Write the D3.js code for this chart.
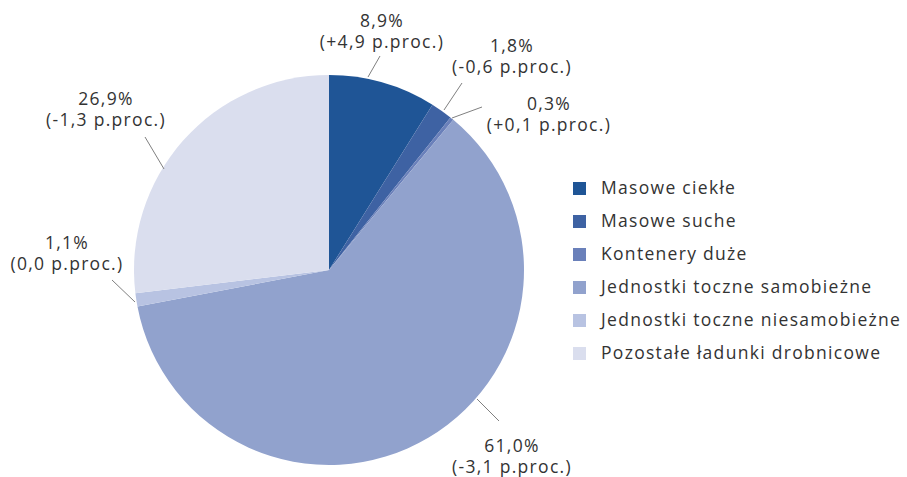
<!DOCTYPE html>
<html>
<head>
<meta charset="utf-8">
<script src="https://cdn.jsdelivr.net/npm/d3@7"></script>
<style>
  body { margin: 0; background: #fff; }
  text { font-family: "Open Sans", "Noto Sans", sans-serif; fill: #333; letter-spacing: 1.3px; }
</style>
</head>
<body>
<svg id="chart" width="907" height="477"></svg>
<script>
const categories = ["Masowe ciekłe", "Masowe suche", "Kontenery duże", "Jednostki toczne samobieżne", "Jednostki toczne niesamobieżne", "Pozostałe ładunki drobnicowe"];
const shares = [8.9, 1.8, 0.3, 61.0, 1.1, 26.9];
const shareLabels = ["8,9%", "1,8%", "0,3%", "61,0%", "1,1%", "26,9%"];
const changeLabels = ["(+4,9 p.proc.)", "(-0,6 p.proc.)", "(+0,1 p.proc.)", "(-3,1 p.proc.)", "(0,0 p.proc.)", "(-1,3 p.proc.)"];
const colors = ["#1f5596", "#3e62a3", "#6a80ba", "#91a2cd", "#b8c3e2", "#dadeee"];

// annotation layout (leader line start/end in px, label center x and first baseline in px)
const labelLayout = [
  {x1: 368, y1: 77, x2: 380, y2: 56, tx: 382, ty: 27},
  {x1: 444, y1: 110, x2: 462, y2: 83, tx: 512, ty: 52},
  {x1: 452, y1: 118, x2: 482, y2: 107, tx: 549, ty: 110},
  {x1: 477, y1: 399, x2: 499, y2: 421, tx: 512, ty: 452},
  {x1: 135, y1: 302, x2: 112, y2: 280, tx: 67, ty: 249},
  {x1: 164, y1: 169, x2: 145, y2: 137, tx: 106, ty: 105}
];

const svg = d3.select("#chart");
const cx = 329, cy = 270, radius = 195;
const color = d3.scaleOrdinal().domain(categories).range(colors);

const pie = d3.pie().sort(null).value(d => d.value);
const data = categories.map((c, i) => ({name: c, value: shares[i], i}));
const arcs = pie(data);
const arc = d3.arc().innerRadius(0).outerRadius(radius);

const g = svg.append("g").attr("transform", `translate(${cx},${cy})`);
g.selectAll("path").data(arcs).join("path")
  .attr("d", arc)
  .attr("fill", d => color(d.data.name));

// leader lines and labels
const lab = svg.append("g");
lab.selectAll("line").data(labelLayout).join("line")
  .attr("x1", d => d.x1).attr("y1", d => d.y1)
  .attr("x2", d => d.x2).attr("y2", d => d.y2)
  .attr("stroke", "#808080").attr("stroke-width", 1);

labelLayout.forEach((p, i) => {
  lab.append("text").attr("text-anchor", "middle").attr("font-size", 17.5)
    .attr("x", p.tx).attr("y", p.ty).text(shareLabels[i]);
  lab.append("text").attr("text-anchor", "middle").attr("font-size", 17.5)
    .attr("x", p.tx).attr("y", p.ty + 21).text(changeLabels[i]);
});

// legend
const legend = svg.append("g").attr("transform", "translate(573,182)");
const ly = d3.scalePoint().domain(categories).range([0, 165]);
const items = legend.selectAll("g").data(categories).join("g")
  .attr("transform", d => `translate(0,${ly(d)})`);
items.append("rect").attr("width", 13).attr("height", 13).attr("fill", d => color(d));
items.append("text").attr("x", 28).attr("y", 12).attr("font-size", 17.5).text(d => d);
</script>
</body>
</html>
